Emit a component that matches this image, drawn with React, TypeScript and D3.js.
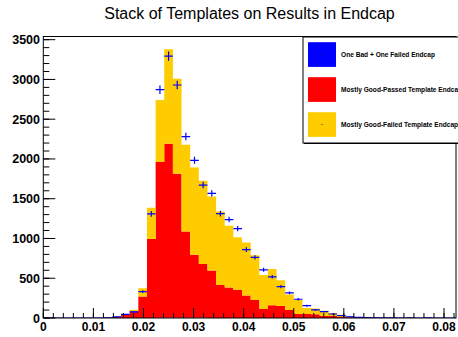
import React from "react";
import * as d3 from "d3";

// Histogram binning along the x axis
const BIN_WIDTH = 0.001725;
const N_BINS = 48;

// Stack components per bin (events)
const oneBadFailed = [
  0, 0, 0, 0, 0, 0, 0, 0, 0, 0, 0, 0, 1, 3, 4, 3, 2, 2, 2, 1, 1, 1, 1, 1,
  0, 0, 0, 0, 0, 0, 0, 0, 0, 0, 0, 0, 0, 0, 0, 0, 0, 0, 0, 0, 0, 0, 0, 0,
];
const goodPassed = [
  0, 0, 0, 0, 0, 0, 0, 2, 13, 42, 85, 269, 994, 1958, 2188, 1812, 1085, 792,
  678, 595, 415, 381, 352, 281, 226, 114, 160, 151, 101, 50, 50, 48, 25, 25,
  12, 8, 4, 2, 2, 1, 1, 1, 0, 1, 0, 1, 0, 0,
];
// Top of the stack (sum of all three templates)
const stackTotal = [
  0, 0, 0, 0, 0, 0, 0, 3, 16, 48, 105, 375, 1385, 2740, 3380, 3010, 2180, 1893,
  1725, 1528, 1340, 1160, 1017, 949, 790, 542, 617, 474, 294, 226, 126, 118,
  92, 59, 42, 21, 10, 6, 5, 3, 2, 2, 2, 1, 2, 1, 1, 1,
];
const goodFailed = stackTotal.map(
  (t, i) => t - goodPassed[i] - oneBadFailed[i]
);
// Measured results per bin
const results = [
  0, 0, 0, 0, 0, 0, 0, 2, 14, 45, 78, 332, 1310, 2871, 3293, 2930, 2282, 1983,
  1671, 1566, 1313, 1238, 1124, 859, 762, 606, 518, 395, 316, 236, 155, 101,
  80, 50, 29, 15, 8, 4, 2, 3, 1, 0, 1, 0, 1, 0, 0, 0,
];

const xTickLabels = ["0", "0.01", "0.02", "0.03", "0.04", "0.05", "0.06", "0.07", "0.08"];
const yTickValues = [0, 500, 1000, 1500, 2000, 2500, 3000, 3500];

const legendEntries = [
  { label: "One Bad + One Failed Endcap", color: "#0000ff" },
  { label: "Mostly Good-Passed Template Endcap", color: "#ff0000" },
  { label: "Mostly Good-Failed Template Endcap", color: "#ffcc00" },
];

const W = 458;
const H = 337;
const FONT = "'Liberation Sans', Arial, Helvetica, sans-serif";

export default function App() {
  const left = 43.3;
  const right = 456;
  const top = 36.5;
  const bottom = 318;

  const x = d3.scaleLinear().domain([0, 0.08]).range([left, 444]);
  const xMax = x.invert(right);
  const y = d3.scaleLinear().domain([0, 3540]).range([bottom, top]);

  const layers = d3
    .stack<number>()
    .keys(["blue", "red", "yellow"])
    .value((i, key) =>
      key === "blue" ? oneBadFailed[i] : key === "red" ? goodPassed[i] : goodFailed[i]
    )(d3.range(N_BINS));
  const layerColors = ["#0000ff", "#ff0000", "#ffcc00"];

  // Each layer is drawn as one stepped band so neighbouring bins join seamlessly
  const stepArea = d3
    .area<[number, number, number]>()
    .x((d) => x(d[0]))
    .y0((d) => y(d[1]))
    .y1((d) => y(d[2]))
    .curve(d3.curveStepAfter);
  const layerPath = (layer: d3.Series<number, string>) => {
    const pts: [number, number, number][] = layer.map((d, i) => [
      i * BIN_WIDTH,
      d[0],
      d[1],
    ]);
    const last = layer[layer.length - 1];
    pts.push([N_BINS * BIN_WIDTH, last[0], last[1]]);
    return stepArea(pts) || "";
  };

  const xMinor = d3.range(0, xMax + 1e-9, 0.002);
  const xMajor = d3.range(0, 0.0801, 0.01);
  const yMinor = d3.range(0, 3501, 100);

  return (
    <svg
      width={W}
      height={H}
      style={{ position: "absolute", left: 0, top: 0, background: "#fff" }}
      fontFamily={FONT}
    >
      <rect x={0} y={0} width={W} height={H} fill="#fff" />
      <text x={249.5} y={19} fontSize={16} textAnchor="middle" fill="#000">
        Stack of Templates on Results in Endcap
      </text>

      <defs>
        <clipPath id="frame">
          <rect x={left} y={top} width={right - left} height={bottom - top} />
        </clipPath>
      </defs>

      <g clipPath="url(#frame)">
        {layers.map((layer, li) => (
          <path key={`L${li}`} d={layerPath(layer)} fill={layerColors[li]} />
        ))}
        {results.map((v, i) => {
          const x0 = i * BIN_WIDTH;
          const x1 = (i + 1) * BIN_WIDTH;
          const cx = x((x0 + x1) / 2);
          const err = Math.sqrt(v);
          return (
            <g key={`r${i}`} stroke="#0000ff" strokeWidth={1.2}>
              <line x1={x(x0)} x2={x(x1)} y1={y(v)} y2={y(v)} />
              {v > 0 && <line x1={cx} x2={cx} y1={y(v - err)} y2={y(v + err)} />}
            </g>
          );
        })}
      </g>

      {/* frame */}
      <rect
        x={left}
        y={top}
        width={right - left}
        height={bottom - top}
        fill="none"
        stroke="#000"
        strokeWidth={1}
      />

      {/* axis ticks */}
      <g stroke="#000" strokeWidth={1}>
        {xMinor.map((t, i) => (
          <line key={`xm${i}`} x1={x(t)} x2={x(t)} y1={bottom} y2={bottom - 5} />
        ))}
        {xMajor.map((t, i) => (
          <line key={`xM${i}`} x1={x(t)} x2={x(t)} y1={bottom} y2={bottom - 10} />
        ))}
        {yMinor.map((t, i) => (
          <line key={`ym${i}`} x1={left} x2={left + 6} y1={y(t)} y2={y(t)} />
        ))}
        {yTickValues.map((t, i) => (
          <line key={`yM${i}`} x1={left} x2={left + 12} y1={y(t)} y2={y(t)} />
        ))}
      </g>
      {xTickLabels.map((lab, i) => (
        <text
          key={`xl${i}`}
          x={x(xMajor[i])}
          y={331}
          fontSize={12}
          fontWeight="bold"
          textAnchor="middle"
          fill="#000"
        >
          {lab}
        </text>
      ))}
      {yTickValues.map((t, i) => (
        <text
          key={`yl${i}`}
          x={40}
          y={y(t)}
          dy="0.36em"
          fontSize={12.5}
          fontWeight="bold"
          textAnchor="end"
          fill="#000"
        >
          {t}
        </text>
      ))}

      {/* legend */}
      <rect x={304} y={38} width={170} height={106} fill="#000" />
      <rect x={303} y={37} width={170} height={106} fill="#fff" stroke="#000" strokeWidth={1} />
      {legendEntries.map((e, i) => {
        const cy = 54.5 + i * 35;
        return (
          <g key={`lg${i}`}>
            <rect x={308} y={cy - 12.3} width={28} height={24.7} fill={e.color} />
            <rect x={321.5} y={cy - 0.5} width={1} height={1} fill="#333" />
            <text
              x={341}
              y={cy}
              dy="0.35em"
              fontSize={6.6}
              fontWeight="bold"
              fill="#000"
            >
              {e.label}
            </text>
          </g>
        );
      })}
    </svg>
  );
}
